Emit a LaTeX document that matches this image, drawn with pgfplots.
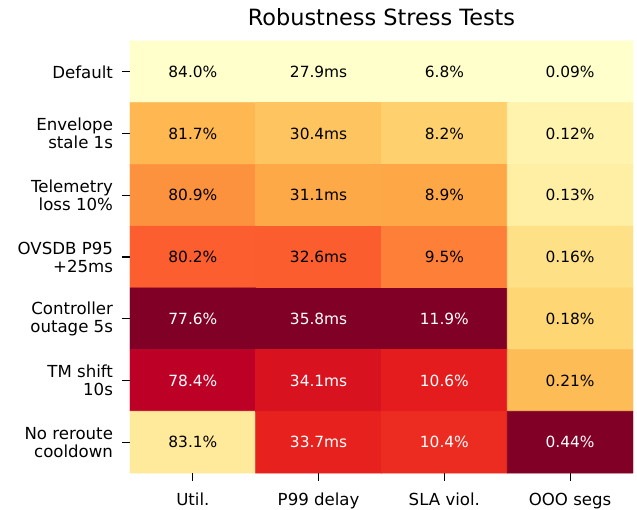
\documentclass[border=0pt]{standalone}
\usepackage{fontspec}
\setmainfont{DejaVu Sans}
\usepackage{pgfplots}
\pgfplotsset{compat=1.18}

% per-column normalised values (0 = best, 1 = worst) drive the colour
\begin{document}
\begin{tikzpicture}
\begin{axis}[
    name=ax,
    scale only axis,
    width=503pt, height=432pt,
    xmin=-0.5, xmax=3.5,
    ymin=-0.5, ymax=6.5,
    y dir=reverse,
    axis line style={draw=none},
    tick align=outside,
    tick pos=left,
    major tick length=7.5pt,
    tick style={line width=1.2pt, black},
    xtick={0,1,2,3},
    xticklabels={Util., P99 delay, SLA viol., OOO segs},
    ytick={0,1,2,3,4,5,6},
    yticklabels={Default, {Envelope\\stale 1s}, {Telemetry\\loss 10\%}, {OVSDB P95\\+25ms},
                 {Controller\\outage 5s}, {TM shift\\10s}, {No reroute\\cooldown}},
    yticklabel style={align=right, xshift=-6pt, font=\fontsize{16.6}{18}\selectfont},
    xticklabel style={yshift=-9pt, font=\fontsize{16.6}{18}\selectfont},
    title={Robustness Stress Tests},
    title style={font=\fontsize{22.4}{24}\selectfont, anchor=base, at={(0.5,1)}, yshift=9pt},
    colormap={ylorrd}{rgb255=(255,255,204) rgb255=(255,237,160) rgb255=(254,217,118)
        rgb255=(254,178,76) rgb255=(253,141,60) rgb255=(252,78,42)
        rgb255=(227,26,28) rgb255=(189,0,38) rgb255=(128,0,38)},
    point meta min=0, point meta max=1,
]

\addplot[matrix plot, faceted color=mapped color, line width=0.6pt,
    mesh/cols=4, point meta=explicit] table[meta=c] {
x y c
0 0 0
1 0 0
2 0 0
3 0 0
0 1 0.359
1 1 0.316
2 1 0.275
3 1 0.086
0 2 0.484
1 2 0.405
2 2 0.412
3 2 0.114
0 3 0.594
1 3 0.595
2 3 0.529
3 3 0.200
0 4 1
1 4 1
2 4 1
3 4 0.257
0 5 0.875
1 5 0.785
2 5 0.745
3 5 0.343
0 6 0.141
1 6 0.734
2 6 0.706
3 6 1
};

\addplot[only marks, mark=none,
    nodes near coords={\textcolor{\tc}{\lbl}},
    visualization depends on={value \thisrow{lbl}\as\lbl},
    visualization depends on={value \thisrow{tc}\as\tc},
    nodes near coords style={anchor=center, font=\fontsize{15.4}{18}\selectfont},
] table {
x y lbl tc
0 0 84.0\% black
1 0 27.9ms black
2 0 6.8\% black
3 0 0.09\% black
0 1 81.7\% black
1 1 30.4ms black
2 1 8.2\% black
3 1 0.12\% black
0 2 80.9\% black
1 2 31.1ms black
2 2 8.9\% black
3 2 0.13\% black
0 3 80.2\% black
1 3 32.6ms black
2 3 9.5\% black
3 3 0.16\% black
0 4 77.6\% white
1 4 35.8ms white
2 4 11.9\% white
3 4 0.18\% black
0 5 78.4\% white
1 5 34.1ms white
2 5 10.6\% white
3 5 0.21\% black
0 6 83.1\% black
1 6 33.7ms white
2 6 10.4\% white
3 6 0.44\% white
};
\end{axis}
\pgfresetboundingbox
\path ([xshift=-130pt,yshift=-37pt]ax.south west) rectangle ([xshift=4pt,yshift=41pt]ax.north east);
\end{tikzpicture}
\end{document}
